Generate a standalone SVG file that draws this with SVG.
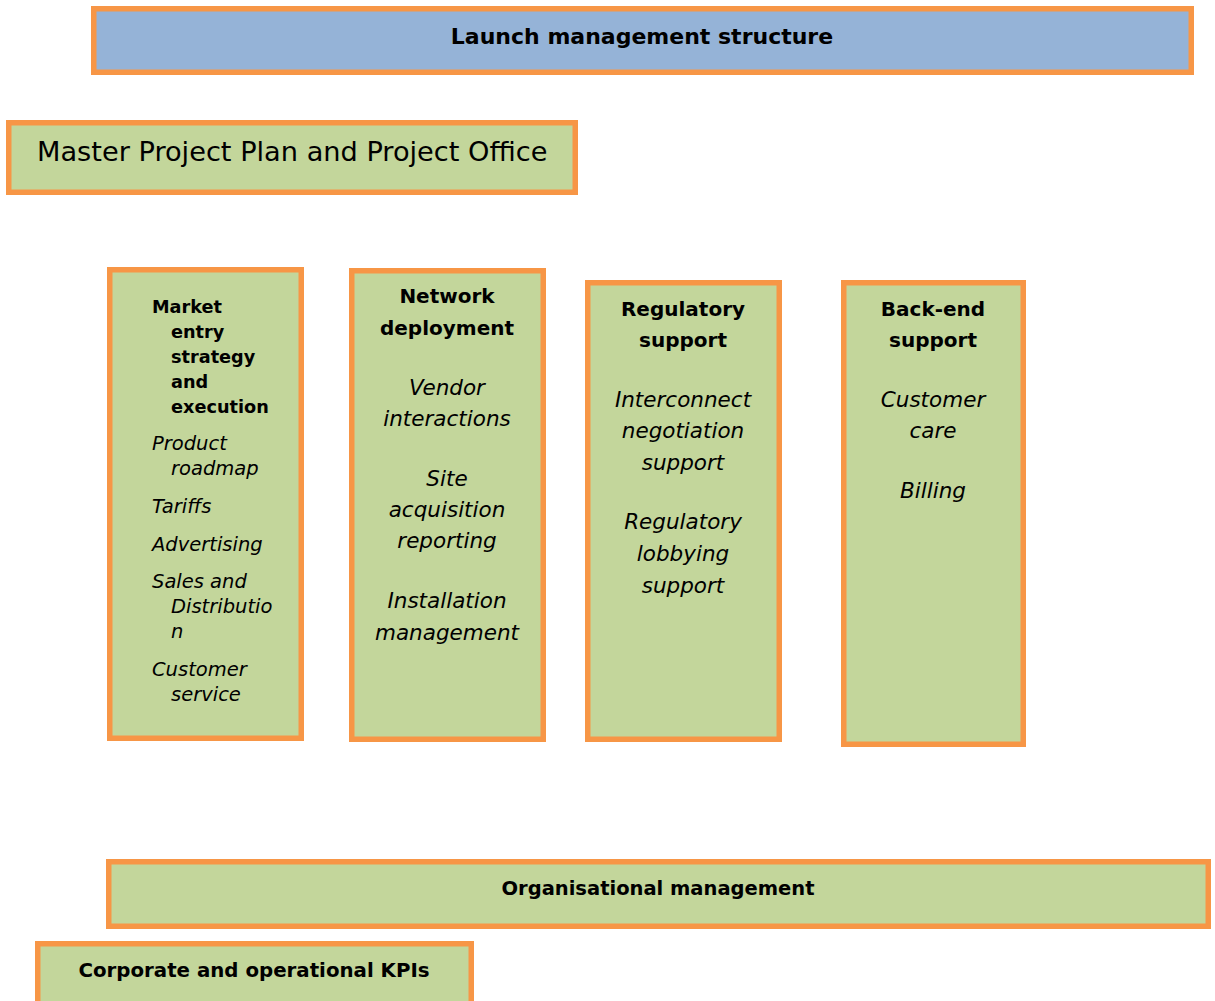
<svg xmlns="http://www.w3.org/2000/svg" width="1215" height="1001" viewBox="0 0 1215 1001">
  <style>
    .box { fill: #C3D69B; stroke: #F79646; stroke-width: 5.5; }
    .blue { fill: #95B3D7; }
    text { font-family: 'DejaVu Sans', 'Liberation Sans', sans-serif; fill: #000; }
    .b { font-weight: bold; }
    .i { font-style: italic; }
    .m { text-anchor: middle; }
  </style>
  <rect width="1215" height="1001" fill="#FFFFFF"/>

  <g id="launch-structure">
    <rect class="box blue" x="93.75" y="8.75" width="1097.5" height="63.5"/>
    <text class="b m" x="642" y="44" font-size="22">Launch management structure</text>
  </g>

  <g id="master-plan">
    <rect class="box" x="8.75" y="122.75" width="566.5" height="69.5"/>
    <text x="37" y="161" font-size="27.2">Master Project Plan and Project Office</text>
  </g>

  <g id="market-entry">
    <rect class="box" x="109.75" y="269.75" width="191.5" height="468.5"/>
    <g font-size="17.7">
      <text class="b" x="152" y="313">Market</text>
      <text class="b" x="171" y="338">entry</text>
      <text class="b" x="171" y="363">strategy</text>
      <text class="b" x="171" y="388">and</text>
      <text class="b" x="171" y="413">execution</text>
    </g>
    <g font-size="19.5">
      <text class="i" x="152" y="450">Product</text>
      <text class="i" x="171" y="475">roadmap</text>
      <text class="i" x="152" y="513">Tariffs</text>
      <text class="i" x="152" y="551">Advertising</text>
      <text class="i" x="152" y="588">Sales and</text>
      <text class="i" x="171" y="613">Distributio</text>
      <text class="i" x="171" y="638">n</text>
      <text class="i" x="152" y="676">Customer</text>
      <text class="i" x="171" y="701">service</text>
    </g>
  </g>

  <g id="network-deployment">
    <rect class="box" x="351.75" y="270.75" width="191.5" height="468.5"/>
    <g font-size="20">
      <text class="b m" x="447" y="303">Network</text>
      <text class="b m" x="447" y="335">deployment</text>
    </g>
    <g font-size="21.5">
      <text class="i m" x="447" y="395">Vendor</text>
      <text class="i m" x="447" y="426">interactions</text>
      <text class="i m" x="447" y="486">Site</text>
      <text class="i m" x="447" y="517">acquisition</text>
      <text class="i m" x="447" y="548">reporting</text>
      <text class="i m" x="447" y="608">Installation</text>
      <text class="i m" x="447" y="640">management</text>
    </g>
  </g>

  <g id="regulatory-support">
    <rect class="box" x="587.75" y="282.75" width="191.5" height="456.5"/>
    <g font-size="20">
      <text class="b m" x="683" y="316">Regulatory</text>
      <text class="b m" x="683" y="347">support</text>
    </g>
    <g font-size="21.5">
      <text class="i m" x="683" y="407">Interconnect</text>
      <text class="i m" x="683" y="438">negotiation</text>
      <text class="i m" x="683" y="470">support</text>
      <text class="i m" x="683" y="529">Regulatory</text>
      <text class="i m" x="683" y="561">lobbying</text>
      <text class="i m" x="683" y="593">support</text>
    </g>
  </g>

  <g id="back-end-support">
    <rect class="box" x="843.75" y="282.75" width="179.5" height="461.5"/>
    <g font-size="20">
      <text class="b m" x="933" y="316">Back-end</text>
      <text class="b m" x="933" y="347">support</text>
    </g>
    <g font-size="21.5">
      <text class="i m" x="933" y="407">Customer</text>
      <text class="i m" x="933" y="438">care</text>
      <text class="i m" x="933" y="498">Billing</text>
    </g>
  </g>

  <g id="organisational-management">
    <rect class="box" x="108.75" y="861.75" width="1099.5" height="64.5"/>
    <text class="b m" x="658" y="895" font-size="19.5">Organisational management</text>
  </g>

  <g id="corporate-kpis">
    <rect class="box" x="37.75" y="943.75" width="433.5" height="70"/>
    <text class="b m" x="254" y="977" font-size="19.8">Corporate and operational KPIs</text>
  </g>

  <g id="connectors"></g>
</svg>
